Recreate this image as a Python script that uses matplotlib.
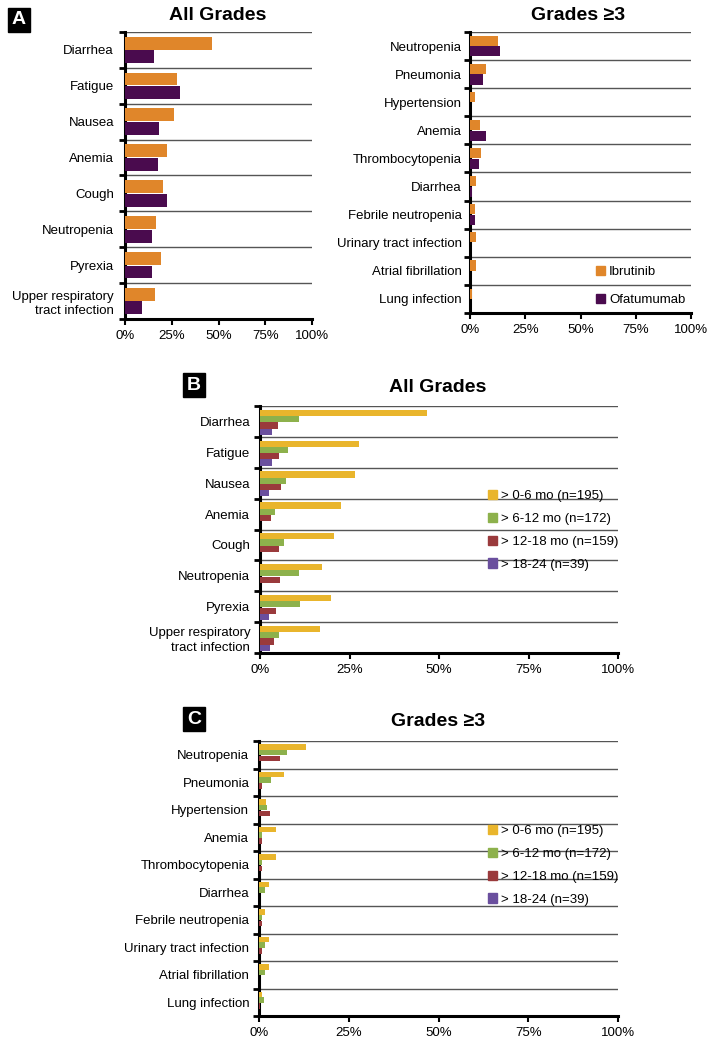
import matplotlib
matplotlib.use("Agg")
import matplotlib.pyplot as plt
import numpy as np
from matplotlib.patches import Patch, Rectangle

plt.rcParams['font.family'] = ['Liberation Sans', 'DejaVu Sans']

W, H = 714, 1050

# ---- data (percent of patients) ----
all_cats = ["Diarrhea", "Fatigue", "Nausea", "Anemia", "Cough", "Neutropenia",
            "Pyrexia", "Upper respiratory\ntract infection"]
g3_cats = ["Neutropenia", "Pneumonia", "Hypertension", "Anemia", "Thrombocytopenia",
           "Diarrhea", "Febrile neutropenia", "Urinary tract infection",
           "Atrial fibrillation", "Lung infection"]

# panel A, all grades
a_all_ibru = [46.6, 27.6, 26.3, 22.4, 20.5, 16.4, 19.4, 16.2]
a_all_ofa = [15.5, 29.5, 18.3, 17.4, 22.6, 14.4, 14.4, 9.3]
# panel A, grade >= 3
a_g3_ibru = [12.8, 7.2, 2.1, 4.7, 5.1, 2.6, 2.1, 2.6, 2.6, 1.0]
a_g3_ofa = [13.7, 5.9, 0, 7.2, 4.2, 1.0, 2.1, 0, 0, 0]

# panel B, all grades by time on ibrutinib
b_0_6 = [46.7, 27.7, 26.6, 22.7, 20.8, 17.3, 19.9, 16.8]
b_6_12 = [11.0, 7.7, 7.2, 4.1, 6.7, 11.0, 11.3, 5.4]
b_12_18 = [5.1, 5.3, 5.9, 3.1, 5.3, 5.6, 4.4, 3.8]
b_18_24 = [3.4, 3.4, 2.5, 0, 0, 0, 2.5, 2.8]

# panel C, grade >= 3 by time on ibrutinib
c_0_6 = [13.1, 6.9, 2.0, 4.8, 4.8, 2.7, 1.7, 2.7, 2.7, 0.9]
c_6_12 = [7.8, 3.3, 2.2, 0.9, 0.9, 1.7, 0.9, 1.7, 1.7, 1.5]
c_12_18 = [5.9, 0.9, 3.1, 0.9, 0.9, 0, 0.9, 0.9, 0, 0.4]
c_18_24 = [0, 0, 0, 0, 0, 0, 0, 0, 0, 0]

drug_labels = ["Ibrutinib", "Ofatumumab"]
drug_colors = ["#E0862A", "#4A0B4E"]
time_labels = ["> 0-6 mo (n=195)", "> 6-12 mo (n=172)",
               "> 12-18 mo (n=159)", "> 18-24 (n=39)"]
time_colors = ["#E9B52C", "#8DB14C", "#9A3A3C", "#6A4F9E"]


def add_axes(fig, left, right, top, bottom):
    return fig.add_axes([left / W, 1 - bottom / H, (right - left) / W, (bottom - top) / H])


def draw_panel(ax, cats, series, colors, height, offsets, label_pad):
    n = len(cats)
    y = np.arange(n)
    for vals, col, off in zip(series, colors, offsets):
        ax.barh(y + off, vals, height=height, color=col, lw=0, zorder=3)
    ax.set_ylim(n - 0.5, -0.5)
    ax.set_xlim(0, 100)
    for b in np.arange(n) - 0.5:
        ax.axhline(b, color='#555555', lw=1.0, zorder=1)
    for side in ['top', 'right']:
        ax.spines[side].set_visible(False)
    for side in ['left', 'bottom']:
        ax.spines[side].set_linewidth(2.2)
    ax.set_yticks(y)
    ax.set_yticklabels(cats, fontsize=9.5, linespacing=1.3)
    ax.set_yticks(np.arange(n + 1) - 0.5, minor=True)
    ax.tick_params(axis='y', which='major', length=0, pad=label_pad)
    ax.tick_params(axis='y', which='minor', length=4, width=2, direction='out')
    ax.set_xticks([0, 25, 50, 75, 100])
    ax.set_xticklabels(["0%", "25%", "50%", "75%", "100%"], fontsize=9.5)
    ax.tick_params(axis='x', length=4, width=1.5, direction='out', pad=4)


def panel_letter(fig, x, y, letter):
    fig.add_artist(Rectangle((x / W, 1 - (y + 24) / H), 22 / W, 24 / H,
                             transform=fig.transFigure, color='black'))
    fig.text((x + 11) / W, 1 - (y + 12) / H, letter, color='white',
             fontsize=14, fontweight='bold', ha='center', va='center')


def title(fig, x, y, text):
    fig.text(x / W, 1 - y / H, text, fontsize=14, fontweight='bold',
             ha='center', va='center')


def legend(fig, x, y, labels, colors, spacing):
    handles = [Patch(color=c, label=l) for l, c in zip(labels, colors)]
    fig.legend(handles=handles, loc='upper left', bbox_to_anchor=(x / W, 1 - y / H),
               frameon=False, fontsize=9.5, handlelength=0.7, handleheight=0.7,
               handletextpad=0.3, labelspacing=spacing, borderpad=0,
               borderaxespad=0)


fig = plt.figure(figsize=(W / 100, H / 100), dpi=100)

# Panel A
ax1 = add_axes(fig, 125, 312, 32, 319)
draw_panel(ax1, all_cats, [a_all_ibru, a_all_ofa], drug_colors, 0.36, [-0.19, 0.19], 8)
ax2 = add_axes(fig, 470, 691, 32, 313)
draw_panel(ax2, g3_cats, [a_g3_ibru, a_g3_ofa], drug_colors, 0.36, [-0.19, 0.19], 6)
panel_letter(fig, 8, 8, "A")
title(fig, 218, 16, "All Grades")
title(fig, 578, 16, "Grades ≥3")
legend(fig, 596, 266, drug_labels, drug_colors, 1.2)

# Panel B
ax3 = add_axes(fig, 260, 618, 406, 653)
draw_panel(ax3, all_cats, [b_0_6, b_6_12, b_12_18, b_18_24], time_colors, 0.2,
           [-0.28, -0.08, 0.13, 0.33], 7)
panel_letter(fig, 183, 373, "B")
title(fig, 438, 387, "All Grades")
legend(fig, 488, 490, time_labels, time_colors, 0.8)

# Panel C
ax4 = add_axes(fig, 259, 618, 741, 1016)
draw_panel(ax4, g3_cats, [c_0_6, c_6_12, c_12_18, c_18_24], time_colors, 0.2,
           [-0.28, -0.08, 0.13, 0.33], 7)
panel_letter(fig, 183, 707, "C")
title(fig, 438, 721, "Grades ≥3")
legend(fig, 488, 825, time_labels, time_colors, 0.8)

fig.savefig("out.png", dpi=100)
